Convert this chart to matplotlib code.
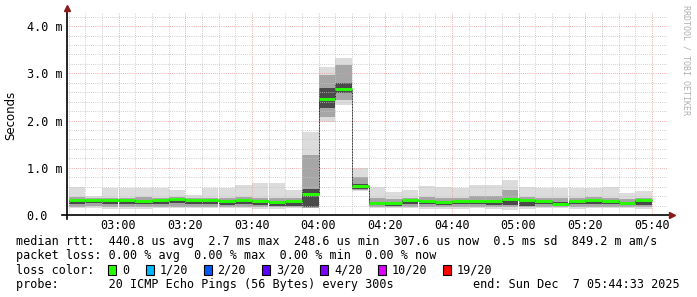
import numpy as np
import pandas as pd
import matplotlib
matplotlib.use("Agg")
import matplotlib.pyplot as plt
import matplotlib.dates as mdates
from matplotlib.patches import Rectangle

# 5-minute steps (start of each bar)
times = ["02:45", "02:50", "02:55", "03:00", "03:05", "03:10", "03:15", "03:20", "03:25",
         "03:30", "03:35", "03:40", "03:45", "03:50", "03:55", "04:00", "04:05", "04:10",
         "04:15", "04:20", "04:25", "04:30", "04:35", "04:40", "04:45", "04:50", "04:55",
         "05:00", "05:05", "05:10", "05:15", "05:20", "05:25", "05:30", "05:35"]

# rtt in ms: smoke envelope (lo/hi), middle band, dark band, median
hi  = [0.59, 0.40, 0.58, 0.58, 0.58, 0.57, 0.53, 0.43, 0.58, 0.58, 0.64, 0.68, 0.68, 0.53, 1.76, 3.13, 3.33, 0.99,
       0.60, 0.49, 0.53, 0.61, 0.60, 0.58, 0.64, 0.64, 0.74, 0.60, 0.58, 0.58, 0.58, 0.58, 0.59, 0.47, 0.51]
mhi = [0.38, 0.36, 0.37, 0.37, 0.38, 0.37, 0.39, 0.37, 0.37, 0.36, 0.38, 0.37, 0.36, 0.36, 1.27, 2.96, 3.17, 0.80,
       0.36, 0.33, 0.37, 0.38, 0.37, 0.37, 0.40, 0.40, 0.52, 0.39, 0.37, 0.36, 0.37, 0.38, 0.37, 0.34, 0.37]
dhi = [0.30, 0.30, 0.29, 0.31, 0.30, 0.30, 0.31, 0.30, 0.30, 0.31, 0.31, 0.30, 0.28, 0.29, 0.56, 2.69, 2.79, 0.66,
       0.27, 0.27, 0.30, 0.29, 0.29, 0.29, 0.29, 0.29, 0.31, 0.30, 0.29, 0.27, 0.29, 0.30, 0.29, 0.27, 0.30]
med = [0.32, 0.32, 0.32, 0.31, 0.30, 0.31, 0.33, 0.32, 0.32, 0.30, 0.32, 0.30, 0.27, 0.29, 0.45, 2.46, 2.67, 0.61,
       0.26, 0.25, 0.31, 0.30, 0.28, 0.29, 0.29, 0.30, 0.33, 0.31, 0.30, 0.24, 0.30, 0.32, 0.30, 0.25, 0.31]
dlo = [0.24, 0.25, 0.23, 0.24, 0.23, 0.24, 0.25, 0.24, 0.24, 0.21, 0.24, 0.22, 0.20, 0.20, 0.16, 2.26, 2.58, 0.55,
       0.21, 0.20, 0.23, 0.23, 0.22, 0.23, 0.23, 0.22, 0.22, 0.20, 0.23, 0.21, 0.23, 0.24, 0.23, 0.21, 0.22]
mlo = [0.18, 0.19, 0.16, 0.17, 0.17, 0.18, 0.18, 0.18, 0.17, 0.17, 0.17, 0.17, 0.16, 0.16, 0.15, 2.08, 2.43, 0.53,
       0.17, 0.17, 0.17, 0.16, 0.17, 0.17, 0.17, 0.16, 0.17, 0.16, 0.18, 0.18, 0.17, 0.18, 0.18, 0.17, 0.16]
lo  = [0.14, 0.15, 0.12, 0.13, 0.13, 0.14, 0.14, 0.15, 0.14, 0.14, 0.14, 0.13, 0.13, 0.14, 0.14, 1.98, 2.34, 0.51,
       0.14, 0.14, 0.14, 0.12, 0.13, 0.13, 0.14, 0.13, 0.10, 0.13, 0.15, 0.14, 0.13, 0.15, 0.14, 0.14, 0.13]

yticks = [0, 1, 2, 3, 4]
ytick_labels = ["0.0", "1.0 m", "2.0 m", "3.0 m", "4.0 m"]

legend_rows = [
    "median rtt:  440.8 us avg  2.7 ms max  248.6 us min  307.6 us now  0.5 ms sd  849.2 m am/s",
    "packet loss: 0.00 % avg  0.00 % max  0.00 % min  0.00 % now",
]
loss_labels = ["0", "1/20", "2/20", "3/20", "4/20", "10/20", "19/20"]
loss_colors = ["#26ff00", "#00b8ff", "#0059ff", "#5e00ff", "#7e00ff", "#dd00ff", "#ff0000"]
probe_text = "probe:       20 ICMP Echo Pings (56 Bytes) every 300s"
end_text = "end: Sun Dec  7 05:44:33 2025"

W, H = 697, 297
mono = "DejaVu Sans Mono"
fs = 8.5

x = pd.to_datetime(["2025-12-07 " + t for t in times])
xn = mdates.date2num(x)
step = 5 / 1440.0
hi, mhi, dhi, med, dlo, mlo, lo = map(np.array, (hi, mhi, dhi, med, dlo, mlo, lo))

fig = plt.figure(figsize=(W / 100, H / 100), dpi=100)
ax = fig.add_axes([67 / W, (H - 215) / H, 600 / W, 203 / H])

ax.bar(xn, hi - lo, bottom=lo, width=step, align="edge", color="#dcdcdc", linewidth=0, zorder=1)
ax.bar(xn, mhi - mlo, bottom=mlo, width=step, align="edge", color="#a6a6a6", linewidth=0, zorder=1.1)
ax.bar(xn, dhi - dlo, bottom=dlo, width=step, align="edge", color="#4a4a4a", linewidth=0, zorder=1.2)

# median: dark step connectors + green segments
edges = np.append(xn, xn[-1] + step)
ax.step(edges, np.append(med, med[-1]), where="post", color="#222222", lw=0.7,
        linestyle=(0, (1, 0.6)), zorder=3)
ax.hlines(med, xn, xn + step, color=loss_colors[0], lw=2.1, zorder=4)

ax.set_xlim(mdates.date2num(pd.Timestamp("2025-12-07 02:44:33")),
            mdates.date2num(pd.Timestamp("2025-12-07 05:44:33")))
ax.set_ylim(0, 4.3)

ax.xaxis.set_major_locator(mdates.MinuteLocator(byminute=[0, 20, 40]))
ax.xaxis.set_minor_locator(mdates.MinuteLocator(byminute=range(0, 60, 5)))
ax.xaxis.set_major_formatter(mdates.DateFormatter("%H:%M"))
ax.set_yticks(yticks)
ax.set_yticklabels(ytick_labels)
ax.set_yticks(np.arange(0, 4.3, 0.2), minor=True)

ax.grid(which="minor", color="#c4c4c4", lw=0.7, linestyle=(0, (0.8, 1.4)), zorder=2)
ax.grid(which="major", color="#e89a9a", lw=0.7, linestyle=(0, (0.8, 1.4)), zorder=2.1)
ax.set_axisbelow(False)

ax.tick_params(which="both", length=0)
ax.tick_params(axis="x", pad=3, labelsize=fs)
ax.tick_params(axis="y", pad=29, labelsize=fs)
for lab in ax.get_xticklabels() + ax.get_yticklabels():
    lab.set_fontfamily(mono)
for lab in ax.get_yticklabels():
    lab.set_horizontalalignment("left")
for s in ax.spines.values():
    s.set_visible(False)

# axes with arrows
ax.plot([-5 / 600, 1 + 4 / 600], [0, 0], transform=ax.transAxes, color="black", lw=1.2, clip_on=False, zorder=5)
ax.plot([0, 0], [-4 / 203, 1 + 3 / 203], transform=ax.transAxes, color="black", lw=1.2, clip_on=False, zorder=5)
ax.plot([1 + 5 / 600], [0], marker=">", ms=4, color="#8b1a1a", transform=ax.transAxes, clip_on=False, zorder=6)
ax.plot([0], [1 + 4 / 203], marker="^", ms=4, color="#8b1a1a", transform=ax.transAxes, clip_on=False, zorder=6)

fig.text(11 / W, 1 - 115 / H, "Seconds", rotation=90, ha="center", va="center",
         fontsize=fs, family="DejaVu Sans")
fig.text(686 / W, 1 - 60 / H, "RRDTOOL / TOBI OETIKER", rotation=270, ha="center", va="center",
         fontsize=6, family=mono, color="#b0b0b0")

row_y = [241, 255.5, 270, 284.5]
for ry, txt in zip(row_y[:2], legend_rows):
    fig.text(16 / W, 1 - ry / H, txt, ha="left", va="center", fontsize=fs, family=mono)

fig.text(16 / W, 1 - row_y[2] / H, "loss color:", ha="left", va="center", fontsize=fs, family=mono)
box_x = [108, 145.5, 203.5, 262, 320, 378, 442.5]
for bx, lab, col in zip(box_x, loss_labels, loss_colors):
    fig.patches.append(Rectangle((bx / W, 1 - (row_y[2] + 5) / H), 8 / W, 10 / H,
                                 transform=fig.transFigure, facecolor=col, edgecolor="black", lw=0.8))
    fig.text((bx + 14) / W, 1 - row_y[2] / H, lab, ha="left", va="center", fontsize=fs, family=mono)

fig.text(16 / W, 1 - row_y[3] / H, probe_text, ha="left", va="center", fontsize=fs, family=mono)
fig.text(680 / W, 1 - row_y[3] / H, end_text, ha="right", va="center", fontsize=fs, family=mono)

fig.savefig("out.png", dpi=100)
